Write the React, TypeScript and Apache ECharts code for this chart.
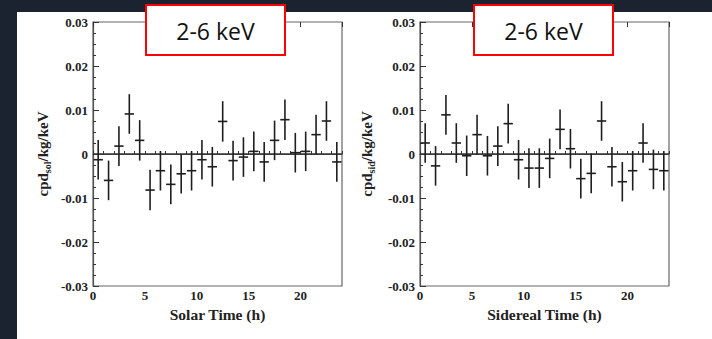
import React, { useEffect, useRef } from "react";
import * as echarts from "echarts";

// ---- data ----
const hours = [0.5, 1.5, 2.5, 3.5, 4.5, 5.5, 6.5, 7.5, 8.5, 9.5, 10.5, 11.5, 12.5, 13.5, 14.5, 15.5, 16.5, 17.5, 18.5, 19.5, 20.5, 21.5, 22.5, 23.5];
const solarValues = [-0.0013, -0.006, 0.0018, 0.0091, 0.0031, -0.0082, -0.0038, -0.0069, -0.0045, -0.0038, -0.0013, -0.0029, 0.0074, -0.0015, -0.0007, 0.0006, -0.0018, 0.0031, 0.0078, 0.0003, 0.0006, 0.0044, 0.0075, -0.0018];
const solarErrors = [0.0045, 0.0045, 0.0045, 0.0045, 0.0046, 0.0046, 0.0045, 0.0045, 0.0045, 0.0045, 0.0045, 0.0045, 0.0046, 0.0045, 0.0045, 0.0045, 0.0045, 0.0045, 0.0046, 0.0045, 0.0045, 0.0045, 0.0045, 0.0045];
const siderealValues = [0.0025, -0.0027, 0.0089, 0.0025, -0.0004, 0.0044, -0.0004, 0.0018, 0.0069, -0.0013, -0.0032, -0.0032, -0.001, 0.0056, 0.0012, -0.0056, -0.0044, 0.0075, -0.0029, -0.0063, -0.0038, 0.0025, -0.0035, -0.0038];
const siderealErrors = [0.0045, 0.0045, 0.0045, 0.0045, 0.0046, 0.0045, 0.0045, 0.0045, 0.0045, 0.0045, 0.0045, 0.0045, 0.0045, 0.0045, 0.0045, 0.0045, 0.0045, 0.0045, 0.0045, 0.0045, 0.0045, 0.0045, 0.0045, 0.0045];
const yTicks = [-0.03, -0.02, -0.01, 0, 0.01, 0.02, 0.03];
const yTickLabels = ["-0.03", "-0.02", "-0.01", "0", "0.01", "0.02", "0.03"];
const xTicks = [0, 5, 10, 15, 20];
const xTickLabels = ["0", "5", "10", "15", "20"];
const xNames = ["Solar Time (h)", "Sidereal Time (h)"];
const ySubs = ["sol", "sid"];
const boxTitle = "2-6 keV";

const SERIF = "Liberation Serif";
const INK = "#222";

function lookup(v: number, ticks: number[], labels: string[]) {
  const i = ticks.findIndex((t) => Math.abs(t - v) < 1e-9);
  return i >= 0 ? labels[i] : "";
}

export default function App() {
  const ref = useRef<HTMLDivElement>(null);
  useEffect(() => {
    if (!ref.current) return;
    const chart = echarts.init(ref.current, undefined, { renderer: "svg" });
    const grids = [
      { left: 93, top: 22, width: 249, height: 264 },
      { left: 420, top: 22, width: 249, height: 264 },
    ];
    const gridOpts = grids.map((g) => ({ ...g, show: true, borderColor: "#666", borderWidth: 1.2, backgroundColor: "transparent", containLabel: false }));

    const xAxes: any[] = [];
    const yAxes: any[] = [];
    const series: any[] = [];
    [0, 1].forEach((gi) => {
      xAxes.push({
        type: "value", gridIndex: gi, min: 0, max: 24, interval: 1,
        axisLine: { show: true, lineStyle: { color: "#555", width: 1.2 } },
        axisTick: { show: true, inside: true, length: 3, lineStyle: { color: "#333", width: 1 } },
        splitLine: { show: false },
        axisLabel: {
          margin: 3, color: INK, fontFamily: SERIF, fontWeight: "bold", fontSize: 13,
          formatter: (v: number) => lookup(v, xTicks, xTickLabels),
        },
        name: xNames[gi], nameLocation: "middle", nameGap: 19,
        nameTextStyle: { color: INK, fontFamily: SERIF, fontWeight: "bold", fontSize: 15.5 },
      });
      xAxes.push({
        type: "value", gridIndex: gi, min: 0, max: 24, interval: 5,
        axisLine: { show: false },
        axisTick: { show: true, inside: true, length: 5, lineStyle: { color: "#333", width: 1 } },
        splitLine: { show: false }, axisLabel: { show: false },
      });
      yAxes.push({
        type: "value", gridIndex: gi, min: -0.03, max: 0.03, interval: 0.01,
        axisLine: { show: true, lineStyle: { color: "#555", width: 1.2 } },
        axisTick: { show: true, inside: true, length: 6, lineStyle: { color: "#333", width: 1 } },
        minorTick: { show: true, splitNumber: 4, length: 3, lineStyle: { color: "#333", width: 1 } },
        splitLine: { show: false },
        axisLabel: {
          margin: 5, color: INK, fontFamily: SERIF, fontWeight: "bold", fontSize: 13,
          formatter: (v: number) => lookup(v, yTicks, yTickLabels),
        },
        name: "{a|cpd}{b|" + ySubs[gi] + "}{a|/kg/keV}",
        nameLocation: "middle", nameRotate: 90, nameGap: gi === 0 ? 41 : 44,
        nameTextStyle: {
          rich: {
            a: { color: INK, fontFamily: SERIF, fontWeight: "bold", fontSize: 15, lineHeight: 18, verticalAlign: "middle" },
            b: { color: INK, fontFamily: SERIF, fontWeight: "bold", fontSize: 10, lineHeight: 18, verticalAlign: "bottom" },
          },
        },
      });
      const vals = gi === 0 ? solarValues : siderealValues;
      const errs = gi === 0 ? solarErrors : siderealErrors;
      series.push({
        type: "line", xAxisIndex: gi * 2, yAxisIndex: gi,
        data: [[0, 0], [24, 0]], symbol: "none", silent: true,
        lineStyle: { color: "#333", width: 1.5 }, z: 1,
      });
      series.push({
        type: "custom", xAxisIndex: gi * 2, yAxisIndex: gi,
        data: hours.map((h, i) => [h, vals[i], errs[i]]),
        encode: { x: 0, y: 1 },
        z: 3,
        renderItem: (params: any, api: any) => {
          const x = api.value(0), y = api.value(1), e = api.value(2);
          const top = api.coord([x, y + e]);
          const bot = api.coord([x, y - e]);
          const l = api.coord([x - 0.45, y]);
          const r = api.coord([x + 0.45, y]);
          const st = { stroke: "#1e1e1e", lineWidth: 1.6 };
          return {
            type: "group",
            children: [
              { type: "line", shape: { x1: top[0], y1: top[1], x2: bot[0], y2: bot[1] }, style: st },
              { type: "line", shape: { x1: l[0], y1: l[1], x2: r[0], y2: r[1] }, style: st },
            ],
          };
        },
      });
    });

    const boxes = [146, 474];
    const graphic: any[] = [
      { type: "rect", z: -10, silent: true, shape: { x: 17, y: 12, width: 695, height: 327 }, style: { fill: "#ffffff" } },
    ];
    boxes.forEach((bx) => {
      graphic.push({ type: "rect", z: 100, shape: { x: bx, y: 5, width: 139, height: 50 }, style: { fill: "#ffffff", stroke: "#ff0000", lineWidth: 2 } });
      graphic.push({
        type: "text", z: 101, x: bx + 69.5, y: 31,
        style: { text: boxTitle, fill: "#111", font: "23px 'Open Sans', sans-serif", align: "center", verticalAlign: "middle" },
      });
    });

    chart.setOption({
      animation: false,
      backgroundColor: "#1c2330",
      grid: gridOpts,
      xAxis: xAxes,
      yAxis: yAxes,
      series,
      graphic,
    });
    return () => chart.dispose();
  }, []);
  return <div ref={ref} style={{ position: "absolute", left: 0, top: 0, width: 712, height: 339 }} />;
}
